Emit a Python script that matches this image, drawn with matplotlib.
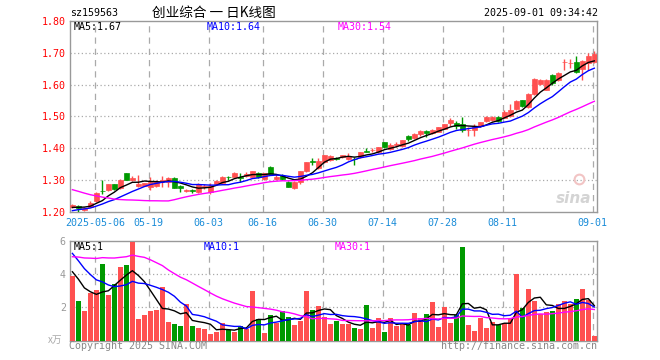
import matplotlib
matplotlib.use("Agg")
import matplotlib.pyplot as plt
import numpy as np
import pandas as pd

plt.rcParams["font.family"] = ["DejaVu Sans Mono", "Noto Sans CJK SC"]

# trading days shown (2025-04-25 .. 2025-09-01), exchange holidays removed
start_day = "2025-04-25"
end_day = "2025-09-01"
holidays = ["2025-05-01", "2025-05-02", "2025-05-05", "2025-06-02"]
tick_dates = ["2025-05-06", "2025-05-19", "2025-06-03", "2025-06-16", "2025-06-30",
              "2025-07-14", "2025-07-28", "2025-08-11", "2025-09-01"]

opens = [1.215, 1.219, 1.206, 1.217, 1.234, 1.267, 1.269, 1.287, 1.276, 1.321,
         1.300, 1.283, 1.283, 1.278, 1.281, 1.298, 1.295, 1.307, 1.283, 1.266,
         1.269, 1.263, 1.279, 1.263, 1.289, 1.291, 1.310, 1.311, 1.310, 1.313,
         1.311, 1.322, 1.303, 1.340, 1.303, 1.313, 1.295, 1.274, 1.295, 1.328,
         1.358, 1.337, 1.356, 1.363, 1.371, 1.372, 1.366, 1.367, 1.374, 1.391,
         1.393, 1.387, 1.419, 1.397, 1.410, 1.407, 1.439, 1.432, 1.444, 1.455,
         1.447, 1.451, 1.461, 1.480, 1.478, 1.475, 1.456, 1.456, 1.470, 1.484,
         1.489, 1.499, 1.496, 1.500, 1.522, 1.551, 1.528, 1.570, 1.603, 1.584,
         1.631, 1.614, 1.670, 1.667, 1.671, 1.648, 1.669, 1.671]
highs = [1.225, 1.221, 1.215, 1.233, 1.262, 1.300, 1.289, 1.289, 1.303, 1.323,
         1.314, 1.317, 1.292, 1.311, 1.300, 1.312, 1.309, 1.309, 1.285, 1.272,
         1.273, 1.291, 1.289, 1.292, 1.300, 1.313, 1.312, 1.326, 1.322, 1.325,
         1.330, 1.324, 1.323, 1.343, 1.318, 1.318, 1.297, 1.297, 1.330, 1.357,
         1.368, 1.370, 1.380, 1.379, 1.373, 1.380, 1.385, 1.374, 1.388, 1.400,
         1.400, 1.405, 1.420, 1.415, 1.419, 1.427, 1.441, 1.447, 1.457, 1.457,
         1.460, 1.467, 1.477, 1.495, 1.485, 1.497, 1.466, 1.475, 1.482, 1.500,
         1.500, 1.501, 1.519, 1.540, 1.550, 1.553, 1.572, 1.620, 1.617, 1.617,
         1.633, 1.640, 1.680, 1.680, 1.691, 1.678, 1.700, 1.706]
lows = [1.212, 1.201, 1.204, 1.215, 1.232, 1.256, 1.266, 1.269, 1.273, 1.299,
        1.296, 1.280, 1.281, 1.268, 1.278, 1.280, 1.280, 1.275, 1.262, 1.262,
        1.261, 1.260, 1.271, 1.257, 1.285, 1.289, 1.300, 1.310, 1.295, 1.310,
        1.310, 1.306, 1.300, 1.318, 1.300, 1.300, 1.278, 1.272, 1.288, 1.326,
        1.349, 1.335, 1.354, 1.360, 1.362, 1.370, 1.363, 1.348, 1.370, 1.388,
        1.387, 1.385, 1.400, 1.395, 1.403, 1.405, 1.424, 1.430, 1.440, 1.434,
        1.445, 1.450, 1.459, 1.470, 1.462, 1.452, 1.440, 1.440, 1.468, 1.482,
        1.487, 1.482, 1.494, 1.498, 1.520, 1.529, 1.526, 1.568, 1.600, 1.582,
        1.600, 1.612, 1.647, 1.652, 1.636, 1.615, 1.647, 1.667]
closes = [1.222, 1.212, 1.213, 1.229, 1.260, 1.265, 1.287, 1.271, 1.300, 1.300,
          1.308, 1.288, 1.290, 1.293, 1.297, 1.300, 1.308, 1.276, 1.274, 1.268,
          1.267, 1.289, 1.281, 1.283, 1.298, 1.311, 1.309, 1.322, 1.307, 1.320,
          1.329, 1.311, 1.321, 1.318, 1.311, 1.303, 1.279, 1.295, 1.328, 1.356,
          1.357, 1.361, 1.379, 1.376, 1.366, 1.379, 1.374, 1.366, 1.387, 1.389,
          1.395, 1.403, 1.403, 1.410, 1.412, 1.426, 1.429, 1.445, 1.453, 1.447,
          1.457, 1.466, 1.476, 1.488, 1.470, 1.457, 1.458, 1.471, 1.481, 1.499,
          1.499, 1.484, 1.514, 1.521, 1.548, 1.532, 1.570, 1.617, 1.613, 1.615,
          1.605, 1.637, 1.672, 1.669, 1.640, 1.675, 1.690, 1.697]
# volume in 万 lots
volumes = [3.88, 2.38, 1.78, 2.84, 3.02, 4.60, 2.74, 3.38, 4.42, 4.54,
           5.92, 1.30, 1.54, 1.78, 1.84, 3.22, 1.12, 1.00, 0.88, 2.20,
           0.88, 0.76, 0.70, 0.40, 0.54, 1.04, 0.64, 0.54, 0.90, 0.70,
           2.98, 1.28, 0.48, 1.52, 1.08, 1.78, 1.40, 0.94, 1.20, 2.98,
           1.84, 2.10, 1.40, 1.00, 1.18, 1.00, 1.00, 0.76, 0.70, 2.14,
           0.76, 1.36, 0.52, 1.36, 0.88, 1.00, 0.94, 1.66, 1.36, 1.60,
           2.32, 0.82, 2.02, 1.06, 1.54, 5.62, 0.94, 0.58, 1.36, 0.76,
           1.12, 0.94, 1.06, 1.36, 4.00, 1.96, 3.10, 2.38, 1.60, 1.72,
           1.78, 2.20, 2.38, 2.20, 2.50, 3.10, 2.44, 0.28]

# sessions before the window, only needed to start the moving averages
hist_closes = [1.37, 1.38, 1.38, 1.37, 1.38, 1.37, 1.38,
               1.34, 1.33, 1.32, 1.31, 1.32, 1.31, 1.30, 1.31, 1.31,
               1.16, 1.13, 1.14, 1.15,
               1.18, 1.19, 1.20, 1.20, 1.20,
               1.21, 1.21, 1.215, 1.215]
hist_volumes = [3.0, 3.4, 3.2, 3.6, 3.1, 3.3, 3.5, 3.2, 3.4, 3.0, 3.6, 3.3,
                6.2, 7.0, 8.5, 9.0, 7.6, 7.2, 6.9, 6.8,
                6.8, 6.5, 6.4, 6.2, 5.8,
                4.6, 4.4, 4.0, 3.8]

ma_windows = [5, 10, 30]
ma_colors = ["black", "#0000ff", "#ff00ff"]
price_legend = ["MA5:1.67", "MA10:1.64", "MA30:1.54"]
volume_legend = ["MA5:1", "MA10:1", "MA30:1"]

UP = "#ff5050"
DOWN = "#009900"
GRID = "#aaaaaa"
SPINE = "#999999"

days = pd.bdate_range(start_day, end_day, freq="C", holidays=holidays)
x = np.arange(len(days))
tick_idx = np.array([days.get_loc(pd.Timestamp(d)) for d in tick_dates]) - 0.27
tick_labels = [tick_dates[0]] + [d[5:] for d in tick_dates[1:]]

o = np.array(opens)
h = np.array(highs)
l = np.array(lows)
c = np.array(closes)
v = np.array(volumes)
colors = np.where(c >= o, UP, DOWN)

n_hist = len(hist_closes)
all_close = pd.Series(hist_closes + closes)
all_vol = pd.Series(hist_volumes + volumes)

W, H = 660, 360


def box(left, top, right, bottom):
    return [left / W, 1 - bottom / H, (right - left) / W, (bottom - top) / H]


fig = plt.figure(figsize=(6.6, 3.6), dpi=100)
ax = fig.add_axes(box(70, 20.8, 597.3, 212))
axv = fig.add_axes(box(70, 240.7, 597.3, 340.7))

# candles
ax.vlines(x, l, h, colors=colors, linewidth=1, zorder=3)
body_low = np.minimum(o, c)
body_h = np.maximum(np.abs(c - o), 0.0015)
ax.bar(x, body_h, bottom=body_low, width=0.78, color=colors, edgecolor=colors,
       linewidth=0.5, zorder=4)

# volume bars
axv.bar(x, v, width=0.82, color=colors, linewidth=0, zorder=3)

for win, col in zip(ma_windows, ma_colors):
    ma_p = all_close.rolling(win).mean().values[n_hist:]
    ma_v = all_vol.rolling(win).mean().values[n_hist:]
    ax.plot(x, ma_p, color=col, linewidth=1, zorder=5)
    axv.plot(x, ma_v, color=col, linewidth=1, zorder=5)

for a in (ax, axv):
    a.set_xlim(-0.4, 87.5)
    for t in tick_idx:
        a.axvline(t, color=GRID, linewidth=0.9, linestyle=(0, (5, 4)), zorder=1)
    for s in a.spines.values():
        s.set_color(SPINE)
        s.set_linewidth(1)
    a.tick_params(length=0)

ax.set_ylim(1.2, 1.8)
yt = np.round(np.arange(1.2, 1.81, 0.1), 2)
ax.set_yticks(yt)
ax.set_yticklabels([f"{t:.2f}" for t in yt])
ax.tick_params(axis="y", colors="#ff0000", labelsize=7.2, pad=3)
for t in yt[1:-1]:
    ax.axhline(t, color=GRID, linewidth=0.9, linestyle=(0, (1, 2)), zorder=1)
ax.set_xticks(tick_idx)
ax.set_xticklabels(tick_labels)
ax.tick_params(axis="x", colors="#1a8cd8", labelsize=7.2, pad=4)

axv.set_ylim(0, 6)
axv.set_yticks([2, 4, 6])
axv.set_yticklabels(["2", "4", "6"])
axv.tick_params(axis="y", colors="#999999", labelsize=7.2, pad=3)
axv.set_xticks([])
for t in [2, 4]:
    axv.axhline(t, color=GRID, linewidth=0.9, linestyle=(0, (1, 2)), zorder=1)

# header
fig.text(70 / W, 1 - 12.5 / H, "sz159563", fontsize=7.2, va="center", ha="left")
fig.text(152 / W, 1 - 12.5 / H, "创业综合 一 日K线图", fontsize=9.8,
         family=["Noto Sans CJK SC", "DejaVu Sans"], va="center", ha="left")
fig.text(598 / W, 1 - 12.5 / H, "2025-09-01 09:34:42", fontsize=7.2,
         va="center", ha="right")

# MA legends
for txt, col, px in zip(price_legend, ma_colors, [74, 207, 338]):
    fig.text(px / W, 1 - 27 / H, txt, color=col, fontsize=7.2, va="center", ha="left")
for txt, col, px in zip(volume_legend, ma_colors, [74, 204, 335]):
    fig.text(px / W, 1 - 247 / H, txt, color=col, fontsize=7.2, va="center", ha="left")

# watermark and footer
ax.text(0.955, 0.07, "sina", transform=ax.transAxes, fontsize=11, fontweight="bold",
        style="italic", color="#d4d4d4", ha="center", va="center",
        family="DejaVu Sans", zorder=2)
ax.plot([0.965], [0.17], transform=ax.transAxes, marker="o", markersize=7,
        markerfacecolor="none", markeredgecolor="#f2c4c4", markeredgewidth=1.5, zorder=2)
fig.text(48 / W, 1 - 340 / H, "x万", fontsize=7, color="#aaaaaa", va="center", ha="left",
         family=["Noto Sans CJK SC", "DejaVu Sans"])
fig.text(69 / W, 1 - 346 / H, "Copyright 2025 SINA.COM", fontsize=7.2, color="#888888",
         va="center", ha="left")
fig.text(597 / W, 1 - 346 / H, "http://finance.sina.com.cn", fontsize=7.2,
         color="#888888", va="center", ha="right")

fig.savefig("out.png", dpi=100, facecolor="white")
